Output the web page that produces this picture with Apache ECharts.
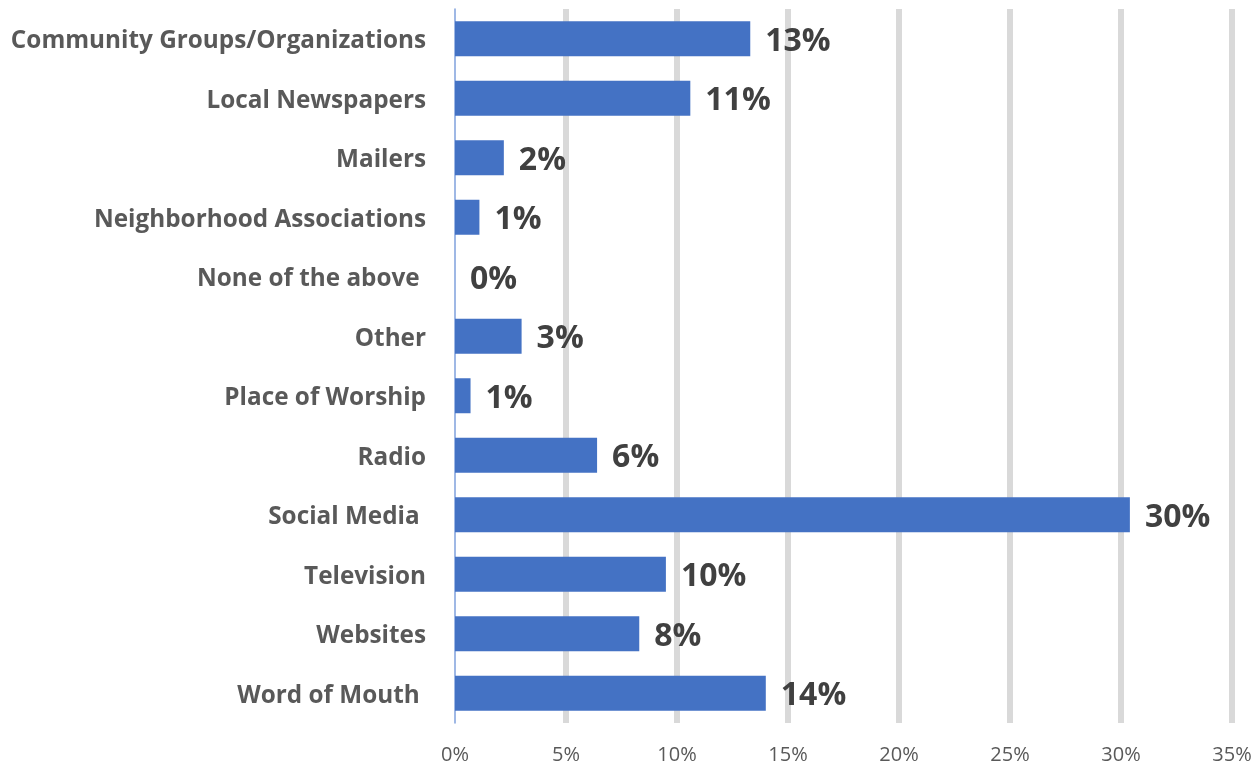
<!DOCTYPE html>
<html><head><meta charset="utf-8">
<script src="https://cdn.jsdelivr.net/npm/echarts@6/dist/echarts.min.js"></script>
<style>html,body{margin:0;padding:0;background:#fff}#c{width:1259px;height:769px}</style>
</head><body><div id="c"></div>
<script>
const categories = ["Community Groups/Organizations","Local Newspapers","Mailers","Neighborhood Associations","None of the above ","Other","Place of Worship","Radio","Social Media ","Television","Websites","Word of Mouth "];
const values = [13.3, 10.6, 2.2, 1.1, 0, 3.0, 0.7, 6.4, 30.4, 9.5, 8.3, 14.0];
const tickLabels = ["0%","5%","10%","15%","20%","25%","30%","35%"];

const chart = echarts.init(document.getElementById('c'));
chart.setOption({
  animation: false,
  grid: {left: 455, right: 27, top: 9, bottom: 46, containLabel: false},
  xAxis: {
    type: 'value', min: 0, max: 35, interval: 5,
    axisLine: {show: false}, axisTick: {show: false},
    splitLine: {show: true, showMinLine: false, lineStyle: {color: '#d9d9d9', width: 6}},
    axisLabel: {color: '#595959', fontFamily: 'Open Sans', fontSize: 20, margin: 22,
      formatter: (v) => tickLabels[Math.round(v / 5)]}
  },
  yAxis: {
    type: 'category', data: categories, inverse: true,
    axisLine: {show: true, lineStyle: {color: '#7fa0dc', width: 1.5}},
    axisTick: {show: false},
    axisLabel: {margin: 29, formatter: (v) => '{a|' + v + '}',
      rich: {a: {color: '#595959', fontFamily: 'Open Sans', fontWeight: 'bold', fontSize: 24.3,
        padding: [5, 0, 0, 0]}}}
  },
  series: [{
    type: 'bar', data: values, barWidth: 35,
    itemStyle: {color: '#4472c4'},
    label: {show: true, position: 'right', distance: 15, color: '#404040', fontFamily: 'Open Sans',
      fontWeight: 'bold', fontSize: 32, offset: [0, 3], formatter: (p) => Math.round(p.value) + '%'}
  }]
});
</script></body></html>
